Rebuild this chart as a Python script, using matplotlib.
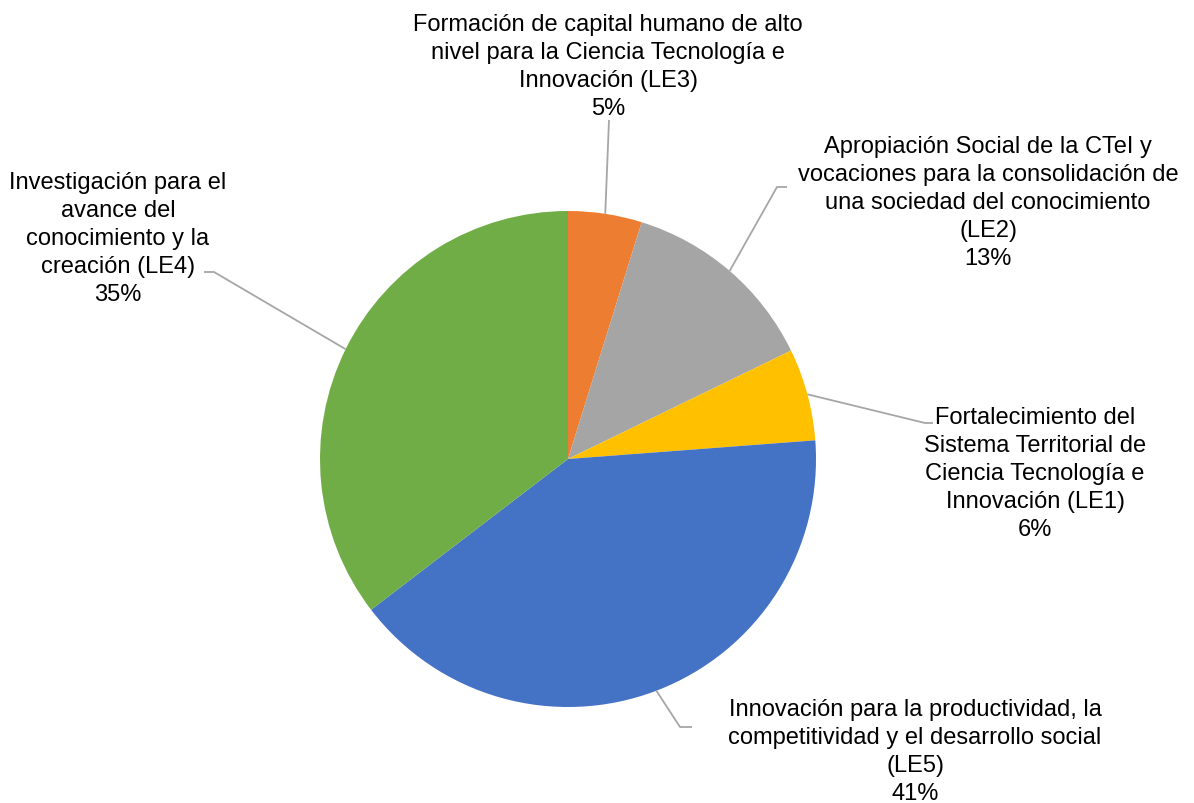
import numpy as np
import matplotlib.pyplot as plt

plt.rcParams['font.family'] = ['Liberation Sans', 'DejaVu Sans']

# slices, clockwise from 12 o'clock
labels = ['Formación de capital humano de alto\nnivel para la Ciencia Tecnología e\nInnovación (LE3)',
          'Apropiación Social de la CTeI y\nvocaciones para la consolidación de\nuna sociedad del conocimiento\n(LE2)',
          'Fortalecimiento del\nSistema Territorial de\nCiencia Tecnología e\nInnovación (LE1)',
          'Innovación para la productividad, la\ncompetitividad y el desarrollo social\n(LE5)',
          'Investigación para el\navance del\nconocimiento y la\ncreación (LE4)']
values = [4.8, 13.0, 6.0, 40.8, 35.4]
colors = ['#ED7D31', '#A5A5A5', '#FFC000', '#4472C4', '#70AD47']

W, H = 1194, 804
fig = plt.figure(figsize=(W / 100, H / 100), dpi=100)
ax = fig.add_axes([0, 0, 1, 1])

cx, cy, r = 568, H - 460, 248
wedges, _ = ax.pie(values, colors=colors, startangle=90, counterclock=False,
                   center=(cx, cy), radius=r, frame=True,
                   wedgeprops=dict(linewidth=0))
ax.set_xlim(0, W)
ax.set_ylim(0, H)
ax.set_aspect('equal')
ax.axis('off')

# label text centre, elbow point, end of horizontal stub (pixels from top)
text_pos = [(608, 67), (988, 203), (1035, 474), (915, 752), (118, 239)]
elbows = [None, (777, 188), (925, 424), (680, 728), (214, 273)]
stubs = [(609, 121), (787, 188), (933, 424), (692, 728), (204, 273)]

for w, lab, v, tp, el, st in zip(wedges, labels, values, text_pos, elbows, stubs):
    ang = np.deg2rad((w.theta1 + w.theta2) / 2)
    xs = [cx + r * np.cos(ang)]
    ys = [cy + r * np.sin(ang)]
    if el is not None:
        xs.append(el[0])
        ys.append(H - el[1])
    xs.append(st[0])
    ys.append(H - st[1])
    ax.plot(xs, ys, color='#A6A6A6', lw=1.3, solid_capstyle='butt')
    ax.text(tp[0], H - tp[1], f'{lab}\n{round(v):.0f}%', ha='center', va='center',
            multialignment='center', fontsize=17, color='#000000', linespacing=1.36)

fig.savefig('out.png', dpi=100, facecolor='white')
